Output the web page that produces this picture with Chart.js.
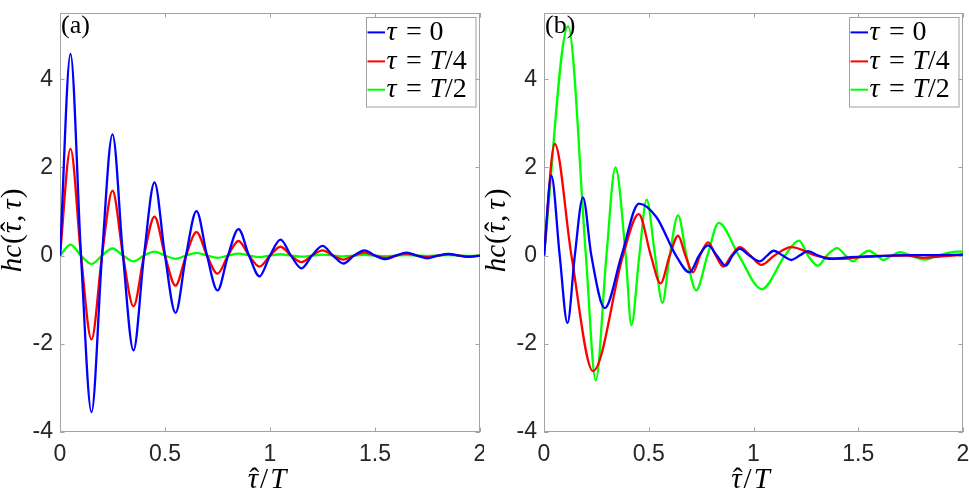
<!DOCTYPE html>
<html>
<head>
<meta charset="utf-8">
<script src="https://cdn.jsdelivr.net/npm/chart.js@4.4.0/dist/chart.umd.min.js"></script>
<style>
html, body { margin: 0; padding: 0; background: #fff; }
#wrap { position: relative; width: 969px; height: 495px; }
canvas { position: absolute; top: 0; }
#chartA { left: 0; }
#chartB { left: 484px; }
</style>
</head>
<body>
<div id="wrap">
<canvas id="chartA" width="484" height="495"></canvas>
<canvas id="chartB" width="485" height="495"></canvas>
</div>
<script>
// axis ticks
const xTicks = [0, 0.5, 1, 1.5, 2];
const yTicks = [-4, -2, 0, 2, 4];
const seriesLabels = ['τ = 0', 'τ = T/4', 'τ = T/2'];
const seriesColors = ['#0000ff', '#ff0000', '#00ff00'];

// panel (a): extrema and zero crossings
const tauA = [0, 0.05, 0.1, 0.15, 0.2, 0.25, 0.3, 0.35, 0.4, 0.45, 0.5, 0.55, 0.6, 0.65, 0.7, 0.75, 0.8, 0.85, 0.9, 0.95,
              1, 1.05, 1.1, 1.15, 1.2, 1.25, 1.3, 1.35, 1.4, 1.45, 1.5, 1.55, 1.6, 1.65, 1.7, 1.75, 1.8, 1.85, 1.9, 1.95, 2];
const aBlue = [0, 4.57, 0, -3.55, 0, 2.75, 0, -2.15, 0, 1.66, 0, -1.30, 0, 1.01, 0, -0.79, 0, 0.60, 0, -0.47,
               0, 0.36, 0, -0.29, 0, 0.22, 0, -0.18, 0, 0.12, 0, -0.08, 0, 0.065, 0, -0.06, 0, 0.04, 0, -0.03, 0];
const aRed = [0, 2.42, 0, -1.90, 0, 1.47, 0, -1.15, 0, 0.88, 0, -0.68, 0, 0.53, 0, -0.41, 0, 0.33, 0, -0.25,
              0, 0.20, 0, -0.15, 0, 0.12, 0, -0.09, 0, 0.07, 0, -0.055, 0, 0.045, 0, -0.035, 0, 0.03, 0, -0.02, 0];
const aGreen = [0, 0.25, 0, -0.19, 0, 0.16, 0, -0.13, 0, 0.09, 0, -0.075, 0, 0.06, 0, -0.05, 0, 0.045, 0, -0.035,
                0, 0.03, 0, -0.025, 0, 0.02, 0, -0.02, 0, 0.015, 0, -0.015, 0, 0.01, 0, -0.01, 0, 0.01, 0, -0.01, 0];

// panel (b)
const tauBBlue = [0, 0.035, 0.075, 0.112, 0.147, 0.186, 0.226, 0.29, 0.37, 0.453, 0.537, 0.63, 0.695, 0.74, 0.783, 0.825, 0.867, 0.90,
                  0.934, 0.98, 1.03, 1.065, 1.096, 1.14, 1.18, 1.22, 1.26, 1.31, 1.36, 1.45, 1.55, 1.65, 1.75, 1.85, 2];
const bBlue = [0, 1.81, 0, -1.53, 0, 1.32, 0, -1.19, 0, 1.18, 0.87, 0, -0.38, 0, 0.23, 0, -0.23, 0,
               0.15, 0, -0.13, 0, 0.11, 0, -0.10, 0, 0.10, 0, -0.075, -0.04, -0.02, 0, 0.01, 0.01, 0.02];
const tauBRed = [0, 0.051, 0.131, 0.234, 0.377, 0.452, 0.51, 0.556, 0.60, 0.64, 0.675, 0.711, 0.745, 0.783, 0.82,
                 0.855, 0.895, 0.934, 0.985, 1.038, 1.10, 1.18, 1.30, 1.41, 1.50, 1.60, 1.73, 1.81, 1.90, 2];
const bRed = [0, 2.53, 0, -2.62, 0, 0.94, 0, -0.63, 0, 0.45, 0, -0.38, 0, 0.30, 0,
              -0.25, 0, 0.19, 0, -0.21, 0, 0.19, 0, -0.075, -0.04, -0.01, 0, -0.05, -0.02, 0.02];
const tauBGreen = [0, 0.115, 0.20, 0.247, 0.298, 0.341, 0.39, 0.417, 0.455, 0.49, 0.53, 0.565, 0.60, 0.64, 0.68, 0.726, 0.78, 0.834, 0.93, 1.04,
                   1.15, 1.217, 1.26, 1.308, 1.35, 1.40, 1.44, 1.475, 1.51, 1.55, 1.59, 1.618, 1.66, 1.70, 1.75, 1.817, 1.88, 1.97, 2];
const bGreen = [0, 5.2, 0, -2.83, 0, 2.0, 0, -1.58, 0, 1.27, 0, -1.07, 0, 0.91, 0, -0.79, 0, 0.74, 0, -0.76,
                0, 0.34, 0, -0.23, 0, 0.17, 0, -0.13, 0, 0.11, 0, -0.10, 0, 0.075, 0, -0.09, 0, 0.09, 0.09];

const axisGray = '#a3a3a3';
const textDark = '#262626';
const serif = '"Liberation Serif"';

// draws TeX-like pieces; returns total width (draw=false only measures)
function pieces(ctx, parts, x, y, size, draw) {
  let cx = x;
  parts.forEach(p => {
    cx += p.pre || 0;
    ctx.font = (p.it ? 'italic ' : '') + size + 'px ' + serif;
    const w = ctx.measureText(p.t).width;
    if (draw) {
      ctx.fillText(p.t, cx, y);
      if (p.hat) {
        ctx.font = size + 'px ' + serif;
        const hw = ctx.measureText('ˆ').width;
        ctx.fillText('ˆ', cx + w / 2 - hw / 2 + size * 0.05, y);
      }
    }
    cx += w + (p.post || 0);
  });
  return cx - x;
}

const xTitle = [{ t: 'τ', it: true, hat: true }, { t: '/', pre: 2, post: 2 }, { t: 'T', it: true }];
const yTitle = [{ t: 'h', it: true }, { t: 'c', it: true, post: 1 }, { t: '(' , post: 1 }, { t: 'τ', it: true, hat: true },
                { t: ',', pre: 1, post: 5 }, { t: 'τ', it: true, post: 1 }, { t: ')' }];

function legendParts(label) {
  // "τ = T/4" -> τ italic, = upright, T italic, digits upright
  return label.split(' ').map((tok, k) => ({ tok, k }));
}

const matlabAxes = {
  id: 'matlabAxes',
  beforeDatasetsDraw(chart) {
    const { ctx, chartArea: a, scales: { x, y } } = chart;
    ctx.save();
    ctx.strokeStyle = axisGray;
    ctx.lineWidth = 1;
    ctx.strokeRect(a.left + 0.5, a.top + 0.5, a.right - a.left - 1, a.bottom - a.top - 1);
    const len = 4.5;
    ctx.beginPath();
    xTicks.forEach(v => {
      const px = Math.round(x.getPixelForValue(v)) + 0.5;
      ctx.moveTo(px, a.bottom); ctx.lineTo(px, a.bottom - len);
      ctx.moveTo(px, a.top); ctx.lineTo(px, a.top + len);
    });
    yTicks.forEach(v => {
      const py = Math.round(y.getPixelForValue(v)) + 0.5;
      ctx.moveTo(a.left, py); ctx.lineTo(a.left + len, py);
      ctx.moveTo(a.right, py); ctx.lineTo(a.right - len, py);
    });
    ctx.stroke();

    // axis titles
    ctx.fillStyle = '#000';
    ctx.textBaseline = 'alphabetic';
    const xs = 29;
    const xw = pieces(ctx, xTitle, 0, 0, xs, false);
    pieces(ctx, xTitle, (a.left + a.right) / 2 - 3 - xw / 2, 488, xs, true);
    const ys = 29;
    const yw = pieces(ctx, yTitle, 0, 0, ys, false);
    ctx.save();
    ctx.translate(21, (a.top + a.bottom) / 2 + 8);
    ctx.rotate(-Math.PI / 2);
    pieces(ctx, yTitle, -yw / 2, 0, ys, true);
    ctx.restore();
    ctx.restore();
  },
  afterDraw(chart, args, opts) {
    const { ctx, chartArea: a } = chart;
    ctx.save();
    // panel tag
    ctx.fillStyle = '#000';
    ctx.font = '26px ' + serif;
    ctx.textBaseline = 'alphabetic';
    ctx.fillText(opts.tag, a.left + 1, a.top + 19.5);
    // legend box
    const w = 109.5, h = 89.5;
    const bx = a.right - 5 - w, by = a.top + 4;
    ctx.fillStyle = '#fff';
    ctx.fillRect(bx, by, w, h);
    ctx.strokeStyle = '#a0a0a0';
    ctx.lineWidth = 1;
    ctx.strokeRect(Math.round(bx) + 0.5, Math.round(by) + 0.5, w, h);
    const rows = [15.4, 44.4, 72.7];
    const slots = [0, 19.5, 43];
    chart.data.datasets.forEach((ds, i) => {
      const ry = by + rows[i];
      ctx.strokeStyle = ds.borderColor;
      ctx.lineWidth = 2;
      ctx.beginPath();
      ctx.moveTo(bx + 2, ry); ctx.lineTo(bx + 19.5, ry);
      ctx.stroke();
      ctx.fillStyle = '#000';
      ctx.textBaseline = 'middle';
      legendParts(ds.label).forEach(({ tok, k }) => {
        const parts = [...tok].map(ch => ({ t: ch, it: /[A-Za-zα-ω]/.test(ch) }));
        pieces(ctx, parts, bx + 21 + slots[k], ry, 28, true);
      });
    });
    ctx.restore();
  }
};

function makeChart(id, xs, ys, tag, padRight) {
  return new Chart(document.getElementById(id), {
    type: 'line',
    data: {
      datasets: ys.map((vals, i) => ({
        label: seriesLabels[i],
        data: xs[i].map((t, k) => ({ x: t, y: vals[k] })),
        borderColor: seriesColors[i],
        borderWidth: 2.3,
        pointRadius: 0,
        fill: false,
        cubicInterpolationMode: 'monotone'
      }))
    },
    options: {
      responsive: false,
      animation: false,
      layout: { padding: { left: 0, right: padRight, top: 13, bottom: 0 } },
      plugins: {
        legend: { display: false },
        tooltip: { enabled: false },
        matlabAxes: { tag: tag }
      },
      scales: {
        x: {
          type: 'linear', min: 0, max: 2,
          afterBuildTicks: s => { s.ticks = xTicks.map(v => ({ value: v })); },
          afterFit: s => { s.height = 63; s.paddingLeft = 0; s.paddingRight = 0; },
          grid: { display: false, drawTicks: false },
          border: { display: false },
          ticks: { padding: 9, color: textDark, font: { family: 'Liberation Sans', size: 23 }, callback: v => String(v), maxRotation: 0 }
        },
        y: {
          type: 'linear', min: -4, max: 5.5,
          afterBuildTicks: s => { s.ticks = yTicks.map(v => ({ value: v })); },
          afterFit: s => { s.width = 60; s.paddingTop = 0; s.paddingBottom = 0; },
          grid: { display: false, drawTicks: false },
          border: { display: false },
          ticks: { padding: 7, color: textDark, font: { family: 'Liberation Sans', size: 23 }, callback: v => String(v) }
        }
      }
    },
    plugins: [matlabAxes]
  });
}

makeChart('chartA', [tauA, tauA, tauA], [aBlue, aRed, aGreen], '(a)', 4);
makeChart('chartB', [tauBBlue, tauBRed, tauBGreen], [bBlue, bRed, bGreen], '(b)', 6);
</script>
</body>
</html>
